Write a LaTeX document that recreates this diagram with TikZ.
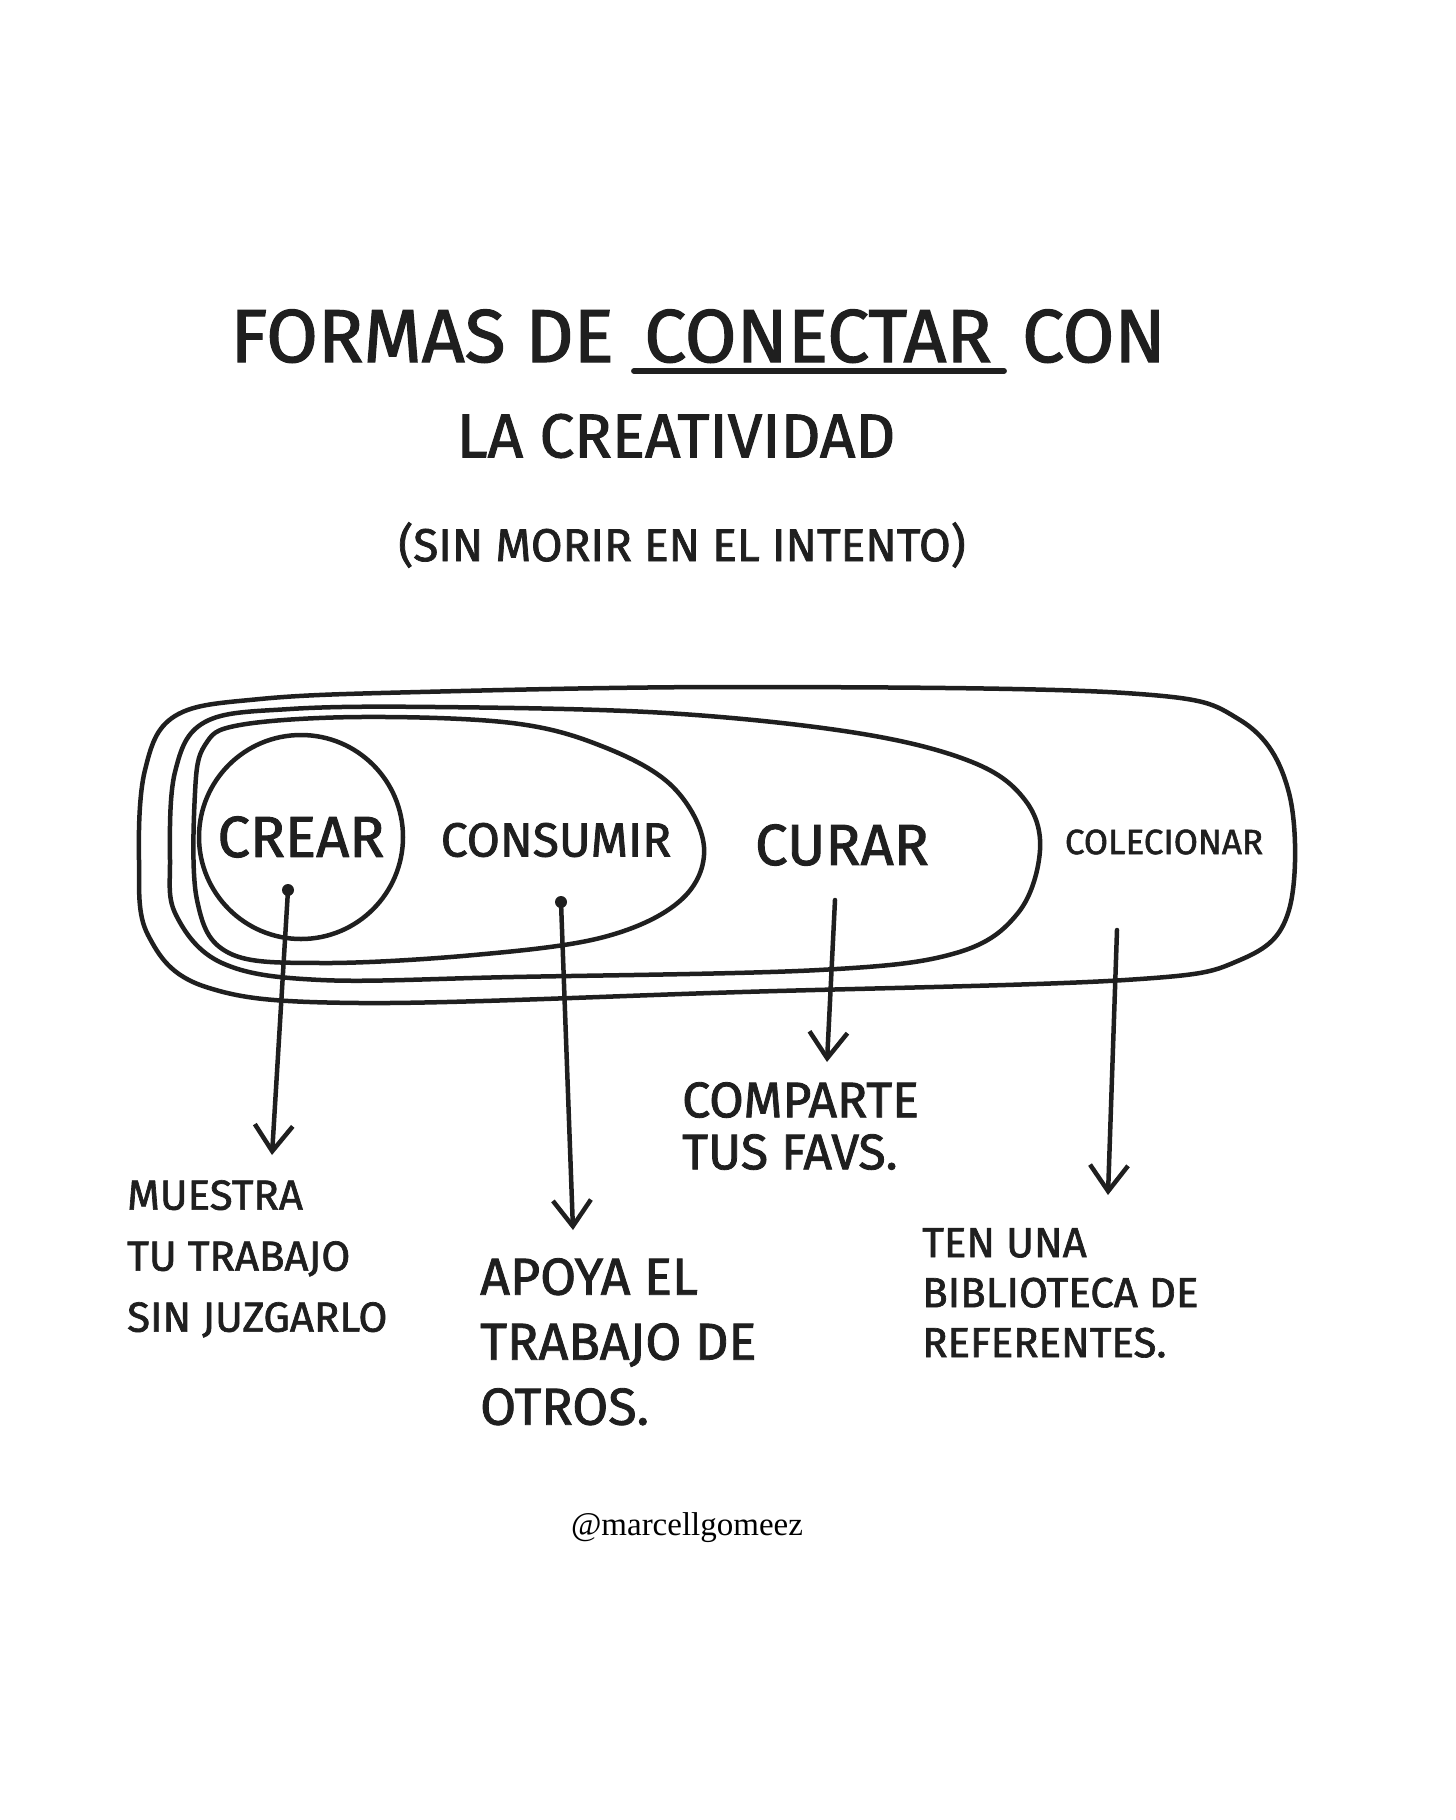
\documentclass[tikz,border=0pt]{standalone}
\usepackage{fontspec}
\setmainfont{Liberation Serif}
\newfontfamily\hand{Fira Sans}[FakeBold=1.6]
\usetikzlibrary{arrows.meta}

\begin{document}
\begin{tikzpicture}[x=1pt, y=-1pt,
  pencil/.style={draw=black!88, line width=4.5, line cap=round, line join=round},
  word/.style={font=\hand\fontsize{#1}{#1}\selectfont, text=black!88, inner sep=0},
  note/.style 2 args={font=\hand\fontsize{#1}{#2}\selectfont, text=black!88, inner sep=0, align=left, anchor=north west}]
  \fill[white] (0,0) rectangle (1456,1820);
  \useasboundingbox (0,0) rectangle (1456,1820);

  % titulo
  \node[word=75, anchor=base] (conectar) at (818,362) {CONECTAR};
  \node[word=75, anchor=base east] (formas) at ([xshift=-30pt]conectar.base west) {FORMAS DE};
  \node[word=75, anchor=base west] (con) at ([xshift=30pt]conectar.base east) {CON};
  \draw[pencil, line width=6] ([shift={(-10pt,-9pt)}]conectar.base west) -- ([shift={(12pt,-9pt)}]conectar.base east);
  \node[word=62] (creatividad) at (676,436) {LA CREATIVIDAD};
  \node[word=46] (intento) at (682,545) {(SIN MORIR EN EL INTENTO)};

  % las tres bolsas
  \draw[pencil] plot[smooth cycle, tension=0.6] coordinates {(139,860) (145,770) (175,716) (260,699) (420,692) (742,687) (1125,693) (1240,720) (1289,793) (1289,910) (1240,960) (1125,980) (742,992) (360,1003) (206,987) (148,935)};
  \draw[pencil] plot[smooth cycle, tension=0.6] coordinates {(170,860) (175,772) (205,722) (290,709) (436,707) (666,713) (857,733) (972,762) (1025,800) (1040,850) (1018,913) (956,953) (819,970) (513,977) (321,980) (222,963) (176,915)};
  \draw[pencil] plot[smooth cycle, tension=0.6] coordinates {(195,793) (205,745) (240,725) (360,717) (512,723) (604,747) (673,787) (704,847) (681,900) (604,937) (474,955) (321,963) (229,953) (197,900)};

  \node[word=58, pencil, circle, minimum size=204] (crear) at (301,837) {CREAR};
  \node[word=48] (consumir) at (556,840) {CONSUMIR};
  \node[word=58] (curar) at (842,845) {CURAR};
  \node[word=35] (colecionar) at (1164,842) {COLECIONAR};

  % flechas
  \foreach \n/\sx/\sy/\ex/\ey in {crear/288/890/272/1155, consumir/561/902/573/1230, curar/835/900/827/1062, colec/1117/930/1108/1195}{
    \coordinate (\n-from) at (\sx,\sy);
    \coordinate (\n-to) at (\ex,\ey);
    \draw[pencil, -{Straight Barb[length=26pt, width=38pt]}] (\n-from) -- (\n-to);}
  \foreach \n in {crear, consumir} \fill[black!88] (\n-from) circle (6);

  \node[note={42}{61}] (muestra) at (127,1180) {MUESTRA\\TU TRABAJO\\SIN JUZGARLO};
  \node[note={52}{65}] (apoya) at (480,1258) {APOYA EL\\TRABAJO DE\\OTROS.};
  \node[note={50}{52}] (comparte) at (682,1082) {COMPARTE\\TUS FAVS.};
  \node[note={42}{50}] (ten) at (922,1228) {TEN UNA\\BIBLIOTECA DE\\REFERENTES.};

  \node[font=\fontsize{33}{33}\selectfont, inner sep=0] (firma) at (687,1528) {@marcellgomeez};
\end{tikzpicture}
\end{document}
